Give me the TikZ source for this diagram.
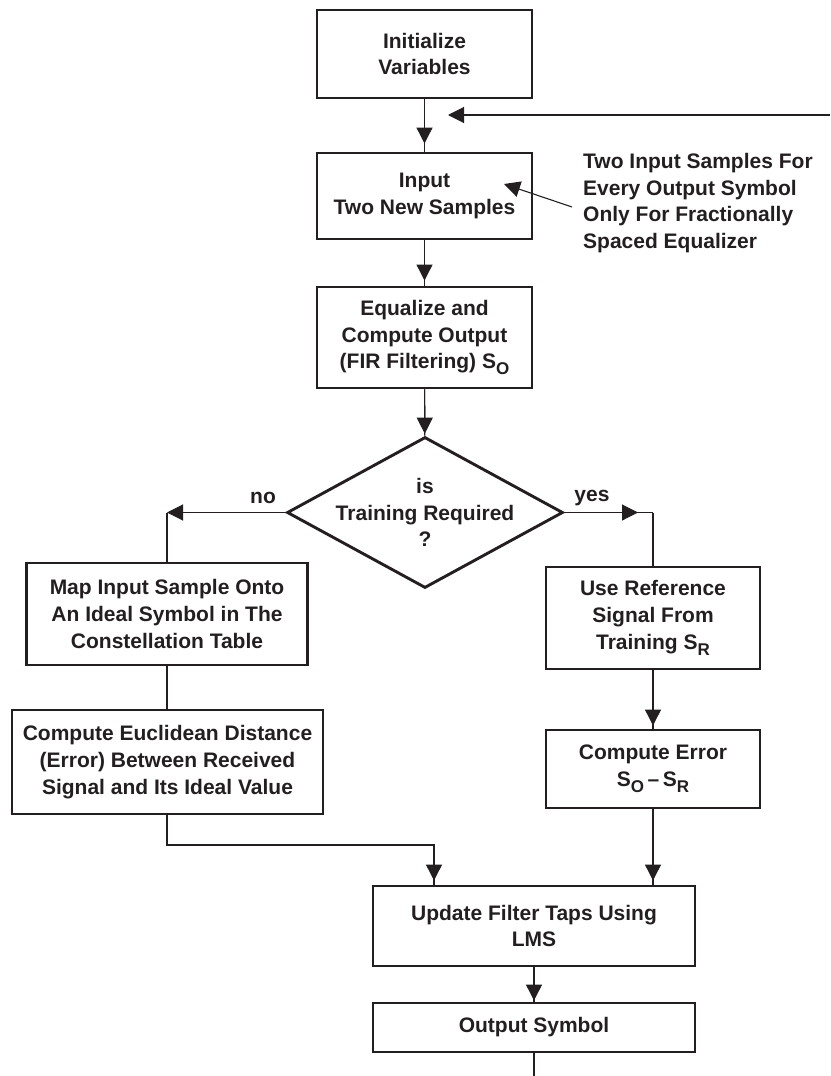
\documentclass[tikz,border=0pt]{standalone}
\usepackage{fontspec}
\setmainfont{Liberation Sans}
\usetikzlibrary{arrows.meta,shapes.geometric}
\definecolor{ink}{RGB}{35,31,32}
% lowered, smaller subscript letter as used in S_O and S_R
\newcommand\lowsub[1]{\raisebox{-0.28em}{\fontsize{17pt}{17pt}\selectfont #1}}

\begin{document}
\begin{tikzpicture}[x=1pt,y=-1pt,
  font=\fontsize{21pt}{26.7pt}\selectfont\bfseries,
  every node/.style={text=ink},
  box/.style={draw=ink, line width=2.9pt, align=center, inner sep=0pt},
  link/.style={draw=ink, line width=1.1pt},
  tip/.style={-{Triangle[length=16pt,width=16pt]}},
  arr/.style={link, postaction={draw=ink, line width=1.1pt, tip, shorten >=#1}},
  arr/.default=3pt
]
\useasboundingbox (0,0) rectangle (830,1076);

% main column
\node[box, minimum width=215pt, minimum height=88pt]  (init)  at (424.5,54)    {Initialize\\Variables};
\node[box, minimum width=215pt, minimum height=86pt]  (input) at (424.5,196)   {Input\\Two New Samples};
\node[box, minimum width=215pt, minimum height=101pt] (equal) at (424.5,337.5) {Equalize and\\Compute Output\\(FIR Filtering) S\lowsub{O}};

% decision
\node[draw=ink, diamond, line width=2.9pt, minimum width=276pt, minimum height=151pt, inner sep=0pt] (dec) at (425,512.5) {};
\node[align=center, inner sep=0pt] (dectext) at (dec.center) {is\\Training Required\\?};
\node[inner sep=0pt] (nolabel)  at (263,498) {no};
\node[inner sep=0pt] (yeslabel) at (592,498) {yes};

% left branch
\node[box, minimum width=281pt, minimum height=102pt] (map)    at (167,614) {Map Input Sample Onto\\An Ideal Symbol in The\\Constellation Table};
\node[box, minimum width=311pt, minimum height=104pt] (euclid) at (167.5,762) {Compute Euclidean Distance\\(Error) Between Received\\Signal and Its Ideal Value};

% right branch
\node[box, minimum width=214pt, minimum height=102pt] (useref)  at (653,618) {Use Reference\\Signal From\\Training S\lowsub{R}};
\node[box, minimum width=214pt, minimum height=78pt]  (comperr) at (653,769) {Compute Error\\S\lowsub{O}\,–\,S\lowsub{R}};

% bottom
\node[box, minimum width=322pt, minimum height=80pt] (update) at (534,926)    {Update Filter Taps Using\\LMS};
\node[box, minimum width=322pt, minimum height=49pt] (output) at (534,1027.5) {Output Symbol};

% side note
\node[anchor=west, align=left, inner xsep=11pt, inner ysep=0pt] (note) at (572,203)
  {Two Input Samples For\\Every Output Symbol\\Only For Fractionally\\Spaced Equalizer};

% free ends and turning points
\coordinate (loopin)  at (830,115);
\coordinate (looptip) at (448,115);
\coordinate (notetip) at (504,184);
\coordinate (noturn)  at (map.north |- dec.west);
\coordinate (yesturn) at (useref.north |- dec.east);
\coordinate (merge)   at (434,845);
\coordinate (exit)    at (output.south |- 0,1076);

% connectors
\draw[arr=8pt] (init) -- (input);
\draw[arr=5pt] (input) -- (equal);
\draw[arr=2pt] (equal) -- (dec);
\draw[link, tip] (loopin) -- (looptip);
\draw[link, tip] ([yshift=-4pt]note.west) -- (notetip);

\draw[link, tip] (dec.west) -- (noturn);
\draw[link] (noturn) -- (map.north);
\draw[arr=15pt] (dec.east) -- (yesturn);
\draw[link] (yesturn) -- (useref.north);

\draw[link] (map.south) -- (map.south |- euclid.north);
\draw[arr=3pt] (useref) -- (comperr);

\draw[arr=4pt] (map.south |- euclid.south) |- (merge) -- (merge |- update.north);
\draw[arr=4pt] (comperr.south) -- (comperr.south |- update.north);

\draw[arr=1pt] (update) -- (output);
\draw[link] (output.south) -- (exit);
\end{tikzpicture}
\end{document}
